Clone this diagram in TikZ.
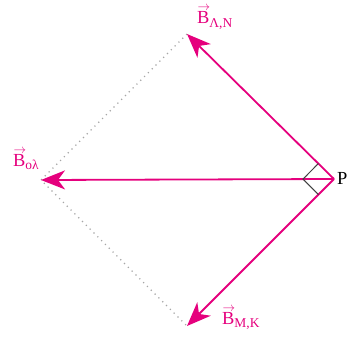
\documentclass[tikz,border=0pt]{standalone}
\usepackage{fontspec}
\usepackage{graphicx}
\setmainfont{Liberation Serif}
\usetikzlibrary{arrows.meta,calc}
\definecolor{mag}{HTML}{E5007D}
\newcommand\myvecB{\makebox[0pt][l]{\hspace{0.02em}\smash{\raisebox{0.7em}{\resizebox{0.68em}{!}{$\rightarrow$}}}}B}
\newcommand\mysub[1]{\raisebox{-0.2em}{\fontsize{13.5}{15}\selectfont #1}}
\begin{document}
\begin{tikzpicture}[x=1bp,y=-1bp,
  vec/.style={draw=mag,line width=1.8bp,-{Stealth[length=24bp,width=19bp,inset=7bp]}},
  dots/.style={draw=gray!70,line width=1.2bp,dash pattern=on 1.2bp off 4.2bp},
  lbl/.style={text=mag,font=\fontsize{18.5}{22}\selectfont,inner sep=0pt,anchor=base west},
  marker/.style={draw=black!75,line width=1bp}]
\useasboundingbox (0,0) rectangle (350,339);
\coordinate (P) at (334,179);
\coordinate (U) at (187,34);
\coordinate (L) at (41,180);
\coordinate (D) at (187,326);
\draw[dots] (U) -- (L) -- (D);
\draw[vec] (P) -- (U);
\draw[vec] (P) -- (L);
\draw[vec] (P) -- (D);
\draw[marker] ($(P)!22bp!(U)$) -- ($(P)!31bp!(L)$) -- ($(P)!22bp!(D)$);
\node[lbl] (lu) at (197,23.5) {\myvecB\mysub{Λ,N}};
\node[lbl] (ll) at (13,166) {\myvecB\mysub{oλ}};
\node[lbl] (ld) at (222,324) {\myvecB\mysub{M,K}};
\node[lbl,text=black] (lp) at (337,184) {P};
\end{tikzpicture}
\end{document}
